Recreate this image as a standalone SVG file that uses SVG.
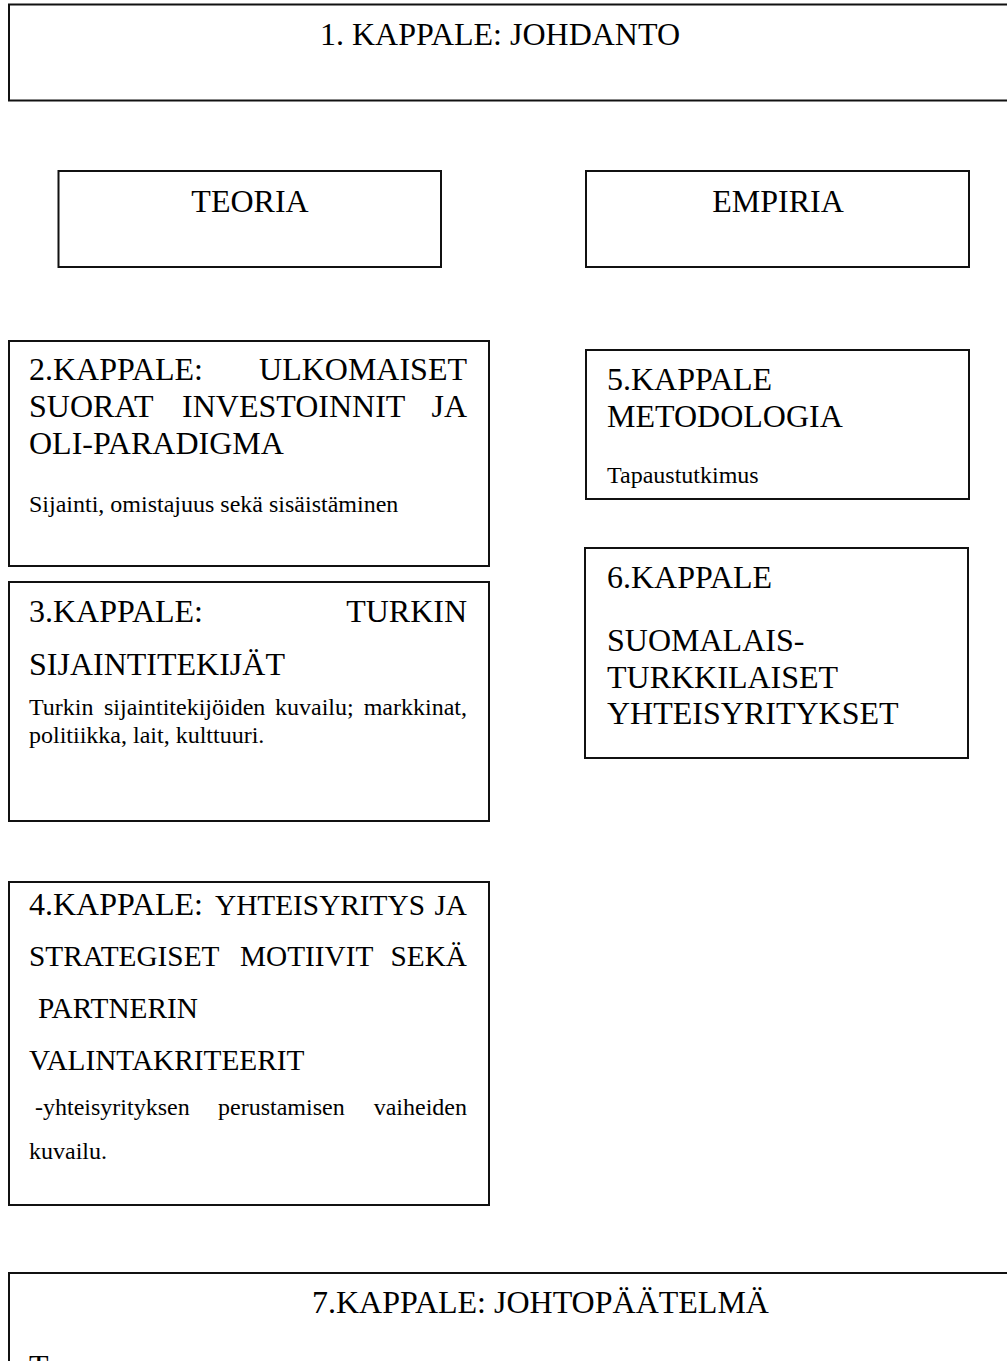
<svg xmlns="http://www.w3.org/2000/svg" width="1007" height="1361" viewBox="0 0 1007 1361">
<style>
.box{fill:#fff;stroke:#111;stroke-width:2}
text{font-family:"Liberation Serif","Times New Roman",serif;fill:#000}
.t{font-size:32px}
.m{font-size:29.3px}
.s{font-size:24px}
</style>
<rect width="1007" height="1361" fill="#fff"/>
<g id="n1">
<rect class="box" x="9" y="4.5" width="1010" height="96"/>
<text class="t" x="320" y="45">1. KAPPALE: JOHDANTO</text>
</g>
<g id="teoria">
<rect class="box" x="58.5" y="171" width="382.5" height="96"/>
<text class="t" x="250" y="212" text-anchor="middle">TEORIA</text>
</g>
<g id="empiria">
<rect class="box" x="586" y="171" width="383" height="96"/>
<text class="t" x="778" y="212" text-anchor="middle">EMPIRIA</text>
</g>
<g id="n2">
<rect class="box" x="9" y="341" width="480" height="225"/>
<text class="t" y="380"><tspan x="29">2.KAPPALE:</tspan><tspan x="467" text-anchor="end">ULKOMAISET</tspan></text>
<text class="t" y="417"><tspan x="29">SUORAT</tspan><tspan x="182">INVESTOINNIT</tspan><tspan x="467" text-anchor="end">JA</tspan></text>
<text class="t" x="29" y="454">OLI-PARADIGMA</text>
<text class="s" x="29" y="512">Sijainti, omistajuus sekä sisäistäminen</text>
</g>
<g id="n3">
<rect class="box" x="9" y="582" width="480" height="239"/>
<text class="t" y="622"><tspan x="29">3.KAPPALE:</tspan><tspan x="467" text-anchor="end">TURKIN</tspan></text>
<text class="t" x="29" y="675">SIJAINTITEKIJÄT</text>
<text class="s" y="715"><tspan x="29">Turkin</tspan><tspan x="104">sijaintitekijöiden</tspan><tspan x="275">kuvailu;</tspan><tspan x="467" text-anchor="end">markkinat,</tspan></text>
<text class="s" x="29" y="743">politiikka, lait, kulttuuri.</text>
</g>
<g id="n4">
<rect class="box" x="9" y="882" width="480" height="323"/>
<text y="915"><tspan class="t" x="29">4.KAPPALE:</tspan><tspan class="m" x="215">YHTEISYRITYS</tspan><tspan class="m" x="467" text-anchor="end">JA</tspan></text>
<text class="m" y="966"><tspan x="29">STRATEGISET</tspan><tspan x="240">MOTIIVIT</tspan><tspan x="467" text-anchor="end">SEKÄ</tspan></text>
<text class="m" x="38" y="1018">PARTNERIN</text>
<text class="m" x="29" y="1070">VALINTAKRITEERIT</text>
<text class="s" y="1115"><tspan x="35">-yhteisyrityksen</tspan><tspan x="218">perustamisen</tspan><tspan x="467" text-anchor="end">vaiheiden</tspan></text>
<text class="s" x="29" y="1159">kuvailu.</text>
</g>
<g id="n5">
<rect class="box" x="586" y="350" width="383" height="149"/>
<text class="t" x="607" y="390">5.KAPPALE</text>
<text class="t" x="607" y="427">METODOLOGIA</text>
<text class="s" x="607" y="483">Tapaustutkimus</text>
</g>
<g id="n6">
<rect class="box" x="585" y="548" width="383" height="210"/>
<text class="t" x="607" y="588">6.KAPPALE</text>
<text class="t" x="607" y="651">SUOMALAIS-</text>
<text class="t" x="607" y="688">TURKKILAISET</text>
<text class="t" x="607" y="724">YHTEISYRITYKSET</text>
</g>
<g id="n7">
<rect class="box" x="9" y="1273" width="1010" height="120"/>
<text class="t" x="312" y="1313">7.KAPPALE: JOHTOPÄÄTELMÄ</text>
<text class="t" x="29" y="1377">T</text>
</g>
<g id="connectors"></g>
</svg>
